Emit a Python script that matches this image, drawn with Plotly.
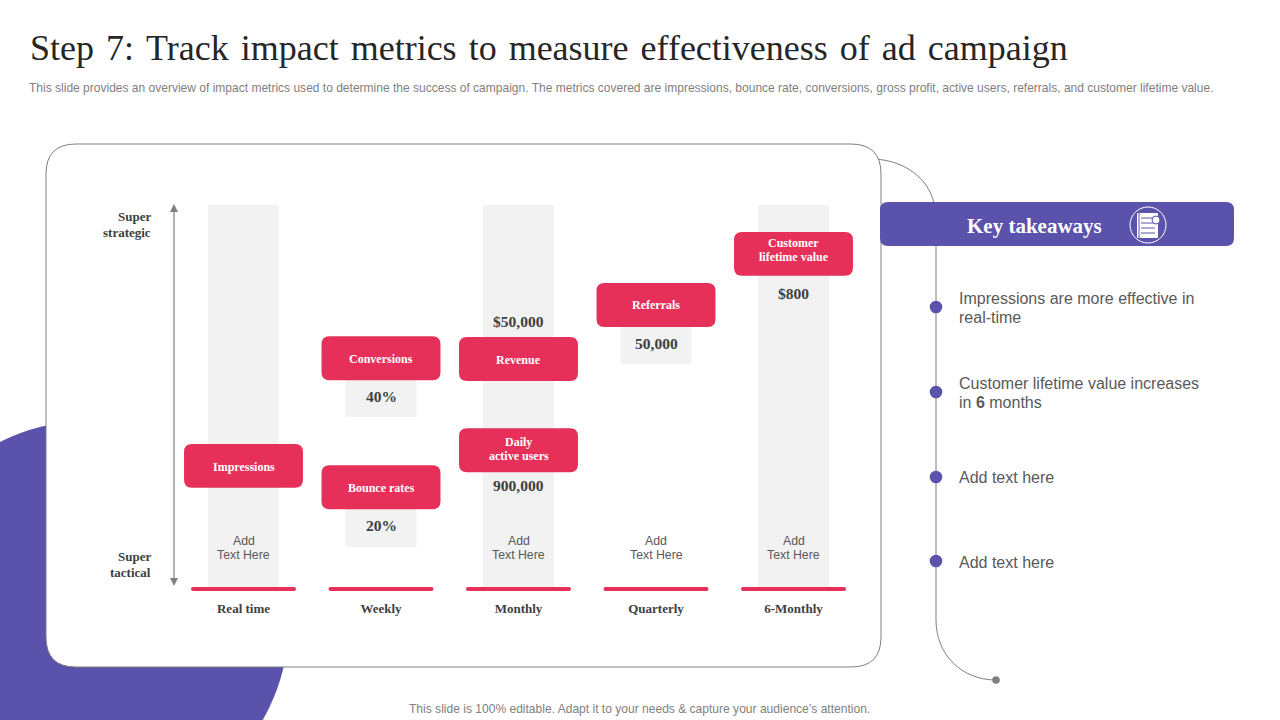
import plotly.graph_objects as go

# ---------- data ----------
frequencies = ["Real time", "Weekly", "Monthly", "Quarterly", "6-Monthly"]
column_index = [0, 1, 1, 2, 3, 4]
column_low = [0, 10.5, 44.5, 0, 58.4, 0]
column_high = [100, 26, 60, 100, 74, 100]

metric_names = ["Impressions", "Conversions", "Bounce rates", "Revenue",
                "Daily<br>active users", "Referrals", "Customer<br>lifetime value"]
metric_index = [0, 1, 1, 2, 2, 3, 4]
metric_levels = [31.7, 59.9, 26.1, 59.7, 35.8, 73.8, 87.2]

value_labels = ["40%", "20%", "$50,000", "900,000", "50,000", "$800"]
value_index = [1, 1, 2, 2, 3, 4]
value_levels = [49.9, 16.0, 69.4, 26.6, 63.8, 76.9]

placeholder_index = [0, 2, 3, 4]
placeholder_text = "Add<br>Text Here"
placeholder_level = 10.2

takeaways = ["Impressions are more effective in<br>real-time",
             "Customer lifetime value increases<br>in <b>6</b> months",
             "Add text here", "Add text here"]

TITLE = "Step 7: Track impact metrics to measure effectiveness of ad campaign"
SUBTITLE = ("This slide provides an overview of impact metrics used to determine the success of campaign. "
            "The metrics covered are impressions, bounce rate, conversions, gross profit, active users, "
            "referrals, and customer lifetime value.")
FOOTER = "This slide is 100% editable. Adapt it to your needs & capture your audience\u2019s attention."

# ---------- style ----------
W, H = 1280, 720
PURPLE, RED, GREY, COL = "#5b53ab", "#e63059", "#7f7f7f", "#f2f2f2"
SERIF, SANS = "Liberation Serif", "Liberation Sans"
BOX_W, BOX_H = 0.865, 11.5
PX_X, PX_Y = 137.5, 3.82
label_nudge_px = [1, 0.5, 0.5, 1.5, -1.5, -0.5, -3.5]


def fx(x):
    return x / W


def fy(y):
    return 1 - y / H


def rounded(cx, cy, w, h, rx, ry):
    x0, x1, y0, y1 = cx - w / 2, cx + w / 2, cy - h / 2, cy + h / 2
    return (f"M{x0 + rx},{y0} L{x1 - rx},{y0} Q{x1},{y0} {x1},{y0 + ry} L{x1},{y1 - ry} "
            f"Q{x1},{y1} {x1 - rx},{y1} L{x0 + rx},{y1} Q{x0},{y1} {x0},{y1 - ry} "
            f"L{x0},{y0 + ry} Q{x0},{y0} {x0 + rx},{y0} Z")


def px_rounded(x0, y0, x1, y1, r):
    return rounded(fx((x0 + x1) / 2), fy((y0 + y1) / 2), (x1 - x0) / W, (y1 - y0) / H, r / W, r / H)


def px_curve(*cmds):
    out = []
    for c, pts in cmds:
        out.append(c + " ".join(f"{fx(x)},{fy(y)}" for x, y in pts))
    return " ".join(out)


shapes = []


def paper(path=None, fill=None, line=None, lw=1, layer="below", **kw):
    s = dict(xref="paper", yref="paper", layer=layer, line=dict(color=line or "rgba(0,0,0,0)", width=lw if line else 0),
             fillcolor=fill or "rgba(0,0,0,0)")
    if path:
        s.update(type="path", path=path)
    s.update(kw)
    shapes.append(s)


def circle(cx, cy, r, **kw):
    paper(type="circle", x0=fx(cx - r), x1=fx(cx + r), y0=fy(cy + r), y1=fy(cy - r), **kw)


# background decoration
circle(89, 621, 200, fill=PURPLE)
paper(px_curve(("M", [(875, 159)]), ("C", [(905, 161), (928, 178), (934, 203)])), line=GREY, lw=1)
paper(px_rounded(46, 144, 881, 667, 30), fill="white", line=GREY, lw=1)
paper(px_curve(("M", [(936, 246)]), ("L", [(936, 620)]), ("C", [(936, 655), (962, 680), (996, 680)])), line=GREY, lw=1)
circle(996, 680, 3.8, fill=GREY)
paper(px_rounded(880, 202, 1234, 246, 8), fill=PURPLE)
for cy in (307, 392, 477, 561):
    circle(936, cy, 6.3, fill=PURPLE)

# takeaways icon
circle(1148, 225, 18, line="white", lw=1, layer="above")
paper(px_rounded(1137, 213, 1158, 238, 1), fill="white", layer="above")
for ly in (218, 223, 228, 233):
    paper(px_curve(("M", [(1141, ly)]), ("L", [(1155, ly)])), line=PURPLE, lw=1, layer="above")
paper(px_curve(("M", [(1139, 213)]), ("L", [(1139, 238)])), line=PURPLE, lw=1, layer="above")
circle(1156, 220, 4, fill="white", line=PURPLE, lw=1, layer="above")

# vertical arrow
paper(px_curve(("M", [(174, 210)]), ("L", [(174, 582)])), line=GREY, lw=1.2, layer="above")
paper(px_curve(("M", [(174, 204)]), ("L", [(178, 212)]), ("L", [(170, 212)])) + " Z", fill=GREY, layer="above")
paper(px_curve(("M", [(174, 586)]), ("L", [(178, 578)]), ("L", [(170, 578)])) + " Z", fill=GREY, layer="above")

# baseline strokes, drawn on the chart's own axes
for i in range(len(frequencies)):
    shapes.append(dict(type="path", xref="x", yref="y", layer="above", line=dict(width=0), fillcolor=RED,
                       path=rounded(i, -0.55, 105 / PX_X, 4 / PX_Y, 2 / PX_X, 2 / PX_Y)))

# metric badges, positioned from the metric arrays on the chart's axes
for i, lvl in zip(metric_index, metric_levels):
    shapes.append(dict(type="path", xref="x", yref="y", layer="above", line=dict(width=0), fillcolor=RED,
                       path=rounded(i, lvl, BOX_W, BOX_H, 8 / PX_X, 8 / PX_Y)))

fig = go.Figure(go.Bar(
    x=column_index, base=column_low,
    y=[h - l for h, l in zip(column_high, column_low)],
    width=71 / PX_X, marker=dict(color=COL, line=dict(width=0)), hoverinfo="skip", showlegend=False,
))

ann = []


def chart_lines(x, y, text, font, gap_px, shift_px=0.0, bold=False):
    """Place each line separately so line spacing follows the reference."""
    lines = text.split("<br>")
    for k, ln in enumerate(lines):
        off = (k - (len(lines) - 1) / 2) * gap_px + shift_px
        ann.append(dict(x=x, y=y - off / PX_Y, text=f"<b>{ln}</b>" if bold else ln, showarrow=False, font=font))


for name, i, lvl, nudge in zip(metric_names, metric_index, metric_levels, label_nudge_px):
    chart_lines(i, lvl, name, dict(family=SERIF, size=12, color="white"), 14, nudge, True)
for t, i, lvl in zip(value_labels, value_index, value_levels):
    chart_lines(i, lvl, t, dict(family=SERIF, size=15.5, color="#404040"), 14, 0, True)
for i in placeholder_index:
    chart_lines(i, placeholder_level, placeholder_text, dict(family=SANS, size=12.3, color="#595959"), 14)


def ptext(x, y, text, size, color, family=SANS, anchor="left", gap=None):
    lines = text.split("<br>")
    for k, ln in enumerate(lines):
        yy = y + (k - (len(lines) - 1) / 2) * (gap or 0)
        ann.append(dict(xref="paper", yref="paper", x=fx(x), y=fy(yy), text=ln, showarrow=False, xanchor=anchor,
                        yanchor="middle", align=anchor, font=dict(family=family, size=size, color=color)))


ptext(28, 48, TITLE.replace(" ", " \u200a"), 36, "#262626", SERIF)
ptext(27, 88, SUBTITLE, 12.02, GREY)
ptext(639, 708.5, FOOTER, 12.05, GREY, anchor="center")
ptext(153, 216, "<b>Super</b>", 13, "#404040", SERIF, "right")
ptext(153, 232.5, "<b>strategic</b>", 13, "#404040", SERIF, "right")
ptext(153, 556, "<b>Super</b>", 13, "#404040", SERIF, "right")
ptext(153, 572, "<b>tactical</b>", 13, "#404040", SERIF, "right")
ptext(1034, 226, "<b>Key takeaways</b>", 21, "white", SERIF, "center")
for t, y in zip(takeaways, (308, 393, 477.5, 562.5)):
    ptext(957, y, t, 16, "#595959", gap=19)

x_lo, x_hi = 243.5 - PX_X / 2, 793.5 + PX_X / 2
y_floor = -2
fig.update_layout(
    width=W, height=H, margin=dict(l=0, r=0, t=0, b=0), autosize=False,
    paper_bgcolor="white", plot_bgcolor="rgba(0,0,0,0)", barmode="overlay", showlegend=False,
    shapes=shapes, annotations=ann,
    xaxis=dict(domain=[fx(x_lo), fx(x_hi)], range=[-0.5, 4.5], tickmode="array",
               tickvals=list(range(len(frequencies))), ticktext=[f"<b>{f}</b>" for f in frequencies],
               tickfont=dict(family=SERIF, size=13, color="#404040"), showgrid=False, zeroline=False,
               showline=False, ticks="outside", ticklen=2, tickcolor="rgba(0,0,0,0)", fixedrange=True),
    yaxis=dict(domain=[fy(587 - y_floor * PX_Y), fy(205)], range=[y_floor, 100], visible=False,
               showgrid=False, zeroline=False, fixedrange=True),
)
fig.write_html("out.html", config={"displayModeBar": False},
               post_script="document.body.style.margin='0';document.documentElement.style.overflow='hidden';")
